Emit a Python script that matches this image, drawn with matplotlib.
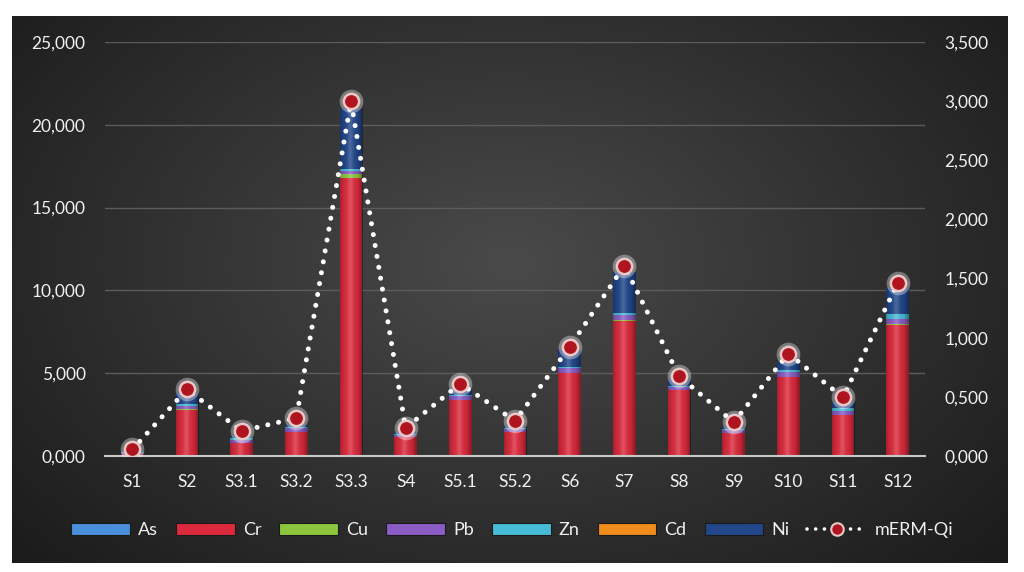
import numpy as np
import matplotlib
matplotlib.use("Agg")
import matplotlib.pyplot as plt
from matplotlib.patches import Rectangle
from matplotlib.lines import Line2D

plt.rcParams['font.family'] = ['Lato', 'DejaVu Sans']

categories = ["S1", "S2", "S3.1", "S3.2", "S3.3", "S4", "S5.1", "S5.2", "S6", "S7",
              "S8", "S9", "S10", "S11", "S12"]
As = [10, 20, 10, 15, 30, 10, 15, 10, 20, 30, 15, 10, 15, 15, 30]
Cr = [120, 2760, 780, 1430, 16750, 1140, 3360, 1440, 4990, 8120, 3970, 1380, 4750, 2460, 7880]
Cu = [20, 30, 20, 20, 250, 20, 20, 20, 30, 40, 20, 20, 20, 20, 40]
Pb = [30, 200, 150, 200, 200, 100, 220, 150, 250, 300, 150, 150, 300, 250, 350]
Zn = [40, 150, 100, 80, 100, 60, 80, 60, 100, 150, 80, 60, 100, 150, 250]
Cd = [1, 2, 1, 1, 3, 1, 1, 1, 2, 2, 1, 1, 1, 1, 2]
Ni = [60, 650, 150, 140, 3600, 120, 400, 120, 1000, 2450, 450, 130, 500, 360, 1600]
mERM_Qi = [55, 563, 211, 321, 3000, 237, 612, 296, 921, 1610, 676, 285, 866, 495, 1463]

series_names = ["As", "Cr", "Cu", "Pb", "Zn", "Cd", "Ni"]
series_values = [As, Cr, Cu, Pb, Zn, Cd, Ni]
series_colors = ["#4a8fdc", "#dc2a3c", "#8cc63f", "#8a5cc4", "#48bcd6", "#f08c1c", "#21468a"]

left_ticks = [0, 5000, 10000, 15000, 20000, 25000]
left_labels = ["0,000", "5,000", "10,000", "15,000", "20,000", "25,000"]
right_ticks = [0, 500, 1000, 1500, 2000, 2500, 3000, 3500]
right_labels = ["0,000", "0,500", "1,000", "1,500", "2,000", "2,500", "3,000", "3,500"]

W, H = 1024, 572
fig = plt.figure(figsize=(W / 100, H / 100), dpi=100, facecolor="white")

# dark panel with radial gradient
bg = fig.add_axes([12 / W, 1 - 563 / H, 996 / W, 547 / H])
bg.set_axis_off()
yy, xx = np.mgrid[0:1:300j, 0:1:540j]
r = np.sqrt(((xx - 0.5) / 0.62) ** 2 + ((yy - 0.45) / 0.75) ** 2)
v = np.clip(0.29 - 0.17 * r, 0.10, 0.29)
img = np.dstack([v, v, v])
bg.imshow(img, extent=[0, 1, 0, 1], aspect="auto", interpolation="bilinear")
bg.set_xlim(0, 1)
bg.set_ylim(0, 1)

ax = fig.add_axes([105 / W, 1 - 456 / H, 820 / W, 414 / H])
ax.patch.set_alpha(0)
x = np.arange(len(categories))
width = 0.42
bottom = np.zeros(len(categories))
containers = []
for name, vals, col in zip(series_names, series_values, series_colors):
    c = ax.bar(x, vals, width, bottom=bottom, color=col, label=name, zorder=3,
               edgecolor="none")
    containers.append(c)
    bottom += np.array(vals, dtype=float)

# glossy shading overlay
g = np.linspace(0, 1, 64)
shade = np.zeros((1, 64, 4))
hl = np.exp(-((g - 0.45) / 0.2) ** 2)
edge = np.clip(np.abs(g - 0.45) * 2.0, 0, 1) ** 3
shade[0, :, :3] = hl[:, None] * np.ones(3)
shade[0, :, 3] = 0.18 * hl + 0.35 * edge
for c in containers:
    for p in c.patches:
        if p.get_height() <= 0:
            continue
        x0, y0 = p.get_x(), p.get_y()
        im = ax.imshow(shade, extent=[x0, x0 + p.get_width(), y0, y0 + p.get_height()],
                       aspect="auto", zorder=4, interpolation="bilinear")
        im.set_clip_path(p)

ax.set_xlim(-0.5, len(categories) - 0.5)
ax.set_ylim(0, 25000)
ax.set_yticks(left_ticks)
ax.set_yticklabels(left_labels)
ax.set_xticks(x)
ax.set_xticklabels(categories)
ax.grid(axis="y", color="#5c5c5c", linewidth=1, zorder=0)
for s in ["top", "right", "left"]:
    ax.spines[s].set_visible(False)
ax.spines["bottom"].set_color("#c8c8c8")
ax.spines["bottom"].set_linewidth(1.5)
ax.spines["bottom"].set_zorder(5)
ax.tick_params(axis="both", length=0, colors="#f0f0f0", labelsize=12.5)
ax.tick_params(axis="y", pad=14)
ax.tick_params(axis="x", pad=13)

ax2 = ax.twinx()
ax2.patch.set_alpha(0)
ax2.set_ylim(0, 3500)
ax2.set_yticks(right_ticks)
ax2.set_yticklabels(right_labels)
for s in ax2.spines.values():
    s.set_visible(False)
ax2.tick_params(axis="y", length=0, colors="#f0f0f0", labelsize=12.5, pad=14)

ax2.plot(x, mERM_Qi, color="white", linewidth=3.6, linestyle=(0, (0.01, 2.2)),
         dash_capstyle="round", zorder=5)
ax2.plot(x, mERM_Qi, linestyle="none", marker="o", markersize=17,
         markerfacecolor=(1, 1, 1, 0.35), markeredgecolor="none", zorder=6)
ax2.plot(x, mERM_Qi, linestyle="none", marker="o", markersize=11,
         markerfacecolor="#b0141e", markeredgecolor="#e8c8c8", markeredgewidth=1.8,
         zorder=7)

handles = [Rectangle((0, 0), 1, 1, facecolor=c, edgecolor="#1a1a1a", linewidth=0.8)
           for c in series_colors]
line_h = Line2D([0], [0], color="white", linewidth=2.6, linestyle=(0, (0.01, 2.4)),
                dash_capstyle="round", marker="o", markersize=9,
                markerfacecolor="#b0141e", markeredgecolor="#e8c8c8", markeredgewidth=1.5)
handles.append(line_h)
labels = series_names + ["mERM-Qi"]
leg = fig.legend(handles, labels, loc="center", bbox_to_anchor=(0.5, 1 - 530 / H),
                 ncol=8, frameon=False, fontsize=13, handlelength=3.25,
                 handleheight=0.65, handletextpad=0.45, columnspacing=1.0)
for t in leg.get_texts():
    t.set_color("#f0f0f0")

fig.savefig("out.png", dpi=100, facecolor="white")
